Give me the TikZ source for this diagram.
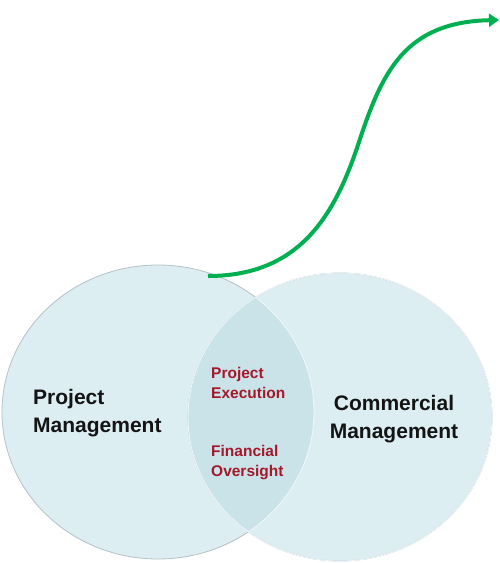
\documentclass[tikz,border=0pt]{standalone}
\usepackage{fontspec}
\setmainfont{Liberation Sans}
\usetikzlibrary{arrows.meta}
\definecolor{circfill}{HTML}{DCEEF2}
\definecolor{lensfill}{HTML}{CAE3E9}
\definecolor{circline}{HTML}{B4C2C6}
\definecolor{arrowgreen}{HTML}{00B050}
\definecolor{darkred}{HTML}{A3192C}
\tikzset{
  circ/.style={fill=circfill, draw=circline, line width=0.8pt},
  bigtext/.style={font=\bfseries\fontsize{21}{28}\selectfont, text=black!92, inner sep=0pt},
  redtext/.style={font=\bfseries\fontsize{15.5}{20}\selectfont, text=darkred, align=left, anchor=north west, inner sep=0pt},
  growth/.style={draw=arrowgreen, line width=4pt, -{Triangle[length=10pt,width=13pt]}}
}
\begin{document}
\begin{tikzpicture}[x=1pt,y=-1pt]
\useasboundingbox (0,0) rectangle (499,563);
% circles
\path[circ] (158,412) ellipse [x radius=156, y radius=147];
\path[circ] (340,417) ellipse [x radius=152, y radius=144];
\begin{scope}
  \clip (158,412) ellipse [x radius=156, y radius=147];
  \fill[lensfill] (340,417) ellipse [x radius=152, y radius=144];
\end{scope}
\draw[white!60!circfill, line width=0.8pt] (340,417) ellipse [x radius=152, y radius=144];
\begin{scope}
  \clip (340,417) ellipse [x radius=152, y radius=144];
  \draw[white!60!circfill, line width=0.8pt] (158,412) ellipse [x radius=156, y radius=147];
\end{scope}
% texts
\node[bigtext, align=left, anchor=west] (pm) at (33,413) {Project\\Management};
\node[bigtext, align=center] (cm) at (394,419) {Commercial\\Management};
\node[redtext] (pe) at (211,367) {Project\\Execution};
\node[redtext] (fo) at (211,445) {Financial\\Oversight};
% arrow
\coordinate (s) at (208,276);
\coordinate (m) at (359,142);
\coordinate (e) at (499,20);
\draw[growth] (s) .. controls (300,276) and (335,215) .. (m) .. controls (382,72) and (405,22) .. (e);
\end{tikzpicture}
\end{document}
